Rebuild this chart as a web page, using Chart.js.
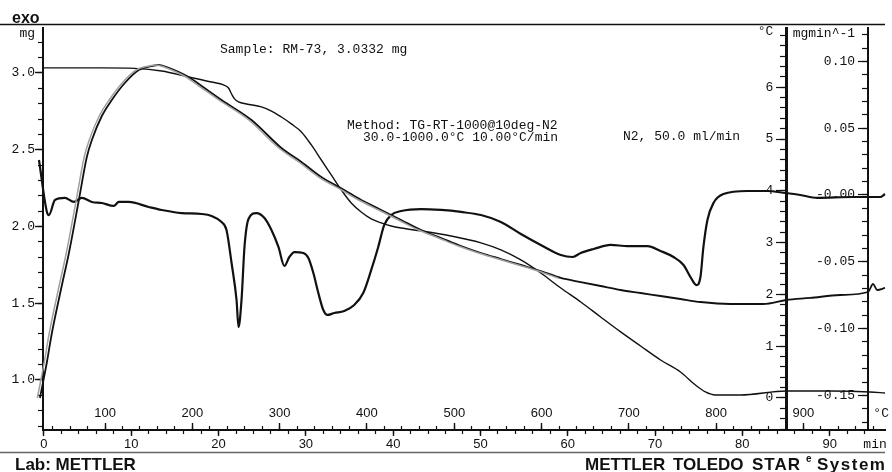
<!DOCTYPE html>
<html>
<head>
<meta charset="utf-8">
<script src="https://cdn.jsdelivr.net/npm/chart.js@4.4.1/dist/chart.umd.min.js"></script>
<style>
  html, body { margin: 0; padding: 0; background: #fff; }
  #tga { display: block; }
</style>
</head>
<body>
<canvas id="tga" width="892" height="472"></canvas>
<script>
// TG curve, sample mass (mg) against time (min)
var tgTime = [0, 6.63, 10.40, 13.49, 16.57, 19.20, 20.57, 21.14, 21.49, 21.83, 22.29, 23.20, 24.91, 26.06, 27.20, 28.34, 29.49, 30.63, 31.77, 32.91, 34.06, 35.20, 36.34, 37.49, 38.63, 39.77, 40.91, 43.20, 46.63, 50.06, 52.34, 54.63, 56.91, 59.20, 61.49, 63.77, 66.06, 68.34, 70.63, 72.91, 74.63, 75.77, 76.91, 79.77, 85.03, 90.06, 94.63, 96.34];
var tgMass = [3.033, 3.033, 3.030, 3.013, 2.974, 2.941, 2.922, 2.902, 2.863, 2.831, 2.811, 2.798, 2.779, 2.752, 2.713, 2.668, 2.616, 2.531, 2.433, 2.336, 2.238, 2.153, 2.094, 2.049, 2.023, 2.003, 1.990, 1.971, 1.938, 1.893, 1.847, 1.782, 1.697, 1.599, 1.508, 1.410, 1.313, 1.221, 1.130, 1.052, 0.967, 0.922, 0.902, 0.902, 0.928, 0.928, 0.922, 0.915];

// SDTA curve (°C)
var sdtaTime = [-0.46, 0.34, 0.91, 2.06, 2.86, 4.00, 4.91, 5.49, 6.63, 7.77, 9.26, 10.86, 12.34, 13.14, 14.06, 15.20, 16.57, 18.06, 20.34, 23.77, 27.20, 29.49, 31.77, 34.40, 36.34, 38.63, 40.91, 43.20, 45.49, 47.77, 50.06, 52.34, 54.63, 56.91, 59.20, 61.49, 63.77, 66.06, 68.34, 70.63, 72.91, 75.20, 78.63, 82.40, 85.03, 87.77, 91.20, 94.40, 94.97, 95.43, 96.34];
var sdtaVal = [0.000, 0.695, 1.255, 2.181, 2.799, 3.822, 4.653, 4.981, 5.444, 5.753, 6.081, 6.332, 6.409, 6.429, 6.390, 6.313, 6.197, 6.023, 5.753, 5.367, 4.826, 4.556, 4.266, 4.015, 3.822, 3.629, 3.436, 3.243, 3.089, 2.934, 2.799, 2.683, 2.568, 2.452, 2.317, 2.239, 2.162, 2.085, 2.027, 1.969, 1.911, 1.853, 1.815, 1.815, 1.892, 1.931, 1.988, 2.046, 2.201, 2.085, 2.124];

// grey companion trace of the SDTA curve
var greyTime = [-0.76, 0.04, 0.61, 1.76, 2.56, 3.70, 4.61, 5.19, 6.33, 7.47, 8.96, 10.56, 12.04, 12.84, 13.76, 14.90, 16.27, 17.76, 20.04, 23.47, 26.90, 29.19, 31.47, 34.10, 36.04, 38.33, 40.61, 42.90, 45.19, 47.47, 49.76, 52.04, 54.33, 56.61, 58.90];
var greyVal = [0.000, 0.695, 1.255, 2.181, 2.799, 3.822, 4.653, 4.981, 5.444, 5.753, 6.081, 6.332, 6.409, 6.429, 6.390, 6.313, 6.197, 6.023, 5.753, 5.367, 4.826, 4.556, 4.266, 4.015, 3.822, 3.629, 3.436, 3.243, 3.089, 2.934, 2.799, 2.683, 2.568, 2.452, 2.317];

// DTG curve (mg/min)
var dtgTime = [-0.57, 0.34, 0.57, 1.26, 2.40, 3.43, 4.34, 5.49, 6.63, 8.00, 8.57, 9.71, 12.00, 13.49, 15.77, 18.06, 19.20, 20.34, 20.91, 21.49, 22.06, 22.29, 22.63, 22.97, 23.43, 24.34, 25.26, 26.06, 26.86, 27.54, 28.11, 28.69, 29.71, 30.29, 30.86, 31.43, 32.00, 32.46, 33.26, 34.40, 35.54, 36.57, 37.49, 38.29, 38.97, 39.77, 40.91, 43.20, 45.49, 47.77, 50.06, 52.34, 54.63, 56.91, 59.20, 60.57, 61.49, 62.97, 64.91, 66.86, 69.14, 70.63, 72.11, 73.26, 74.06, 74.74, 75.20, 75.54, 76.00, 76.69, 77.83, 80.57, 82.86, 84.91, 86.63, 88.57, 92.69, 95.77, 96.34];
var dtgVal = [0.0262, -0.0127, -0.0150, -0.0037, -0.0022, -0.0052, -0.0022, -0.0052, -0.0060, -0.0082, -0.0052, -0.0052, -0.0090, -0.0112, -0.0135, -0.0142, -0.0157, -0.0202, -0.0262, -0.0509, -0.0786, -0.0988, -0.0786, -0.0389, -0.0180, -0.0135, -0.0172, -0.0262, -0.0389, -0.0531, -0.0464, -0.0427, -0.0434, -0.0472, -0.0584, -0.0734, -0.0861, -0.0898, -0.0883, -0.0868, -0.0823, -0.0734, -0.0561, -0.0389, -0.0225, -0.0150, -0.0120, -0.0105, -0.0112, -0.0127, -0.0150, -0.0202, -0.0292, -0.0374, -0.0449, -0.0464, -0.0434, -0.0404, -0.0374, -0.0382, -0.0382, -0.0419, -0.0464, -0.0524, -0.0614, -0.0674, -0.0614, -0.0389, -0.0187, -0.0060, 0.0007, 0.0030, 0.0030, 0.0015, 0.0000, -0.0022, -0.0015, -0.0015, 0.0007];

// tick labels
var timeTicks = [0, 10, 20, 30, 40, 50, 60, 70, 80, 90];
var tempTicks = [100, 200, 300, 400, 500, 600, 700, 800, 900];
var mgTicks = [1.0, 1.5, 2.0, 2.5, 3.0];
var sdtaTicks = [0, 1, 2, 3, 4, 5, 6];
var dtgTicks = [-0.15, -0.10, -0.05, 0, 0.05, 0.10];
var dtgLabels = ['-0.15', '-0.10', '-0.05', '-0.00', '0.05', '0.10'];

var ink = '#111';
var none = 'rgba(0,0,0,0)';
var mono = '"Liberation Mono", "Courier New", monospace';
var sans = '"Liberation Sans", Arial, sans-serif';

// time axis range; temperature = 30 + 10 * time
var tMin = -0.11, tMax = 96.34;
var mgMin = 0.674, mgMax = 3.293;
var sdMin = -0.618, sdMax = 7.143;
var dgMin = -0.1759, dgMax = 0.125;

function pts(xs, ys) {
    return xs.map(function (x, i) { return {x: x, y: ys[i]}; });
}
function steps(a, b, d) {
    var out = [];
    for (var v = a; v <= b + 1e-9; v += d) out.push(+v.toFixed(4));
    return out;
}
function setTicks(values) {
    return function (s) { s.ticks = values.map(function (v) { return {value: v}; }); };
}
function hideAbove(limit) {
    return function (c) { return c.tick && c.tick.value > limit ? none : ink; };
}

// tick-only scale sitting on another axis
function minorScale(axis, min, max, pos, values, len) {
    return {
        type: 'linear', axis: axis, position: pos, min: min, max: max, bounds: 'data',
        afterBuildTicks: setTicks(values),
        grid: {drawOnChartArea: false, tickLength: len, tickWidth: 1.2, tickColor: ink},
        border: {display: false},
        ticks: {display: false, autoSkip: false}
    };
}

var paperText = {
    id: 'paperText',
    afterDraw: function (chart) {
        var c = chart.ctx;
        c.save();
        c.strokeStyle = ink;
        c.lineWidth = 1.6;
        c.beginPath(); c.moveTo(0, 24.5); c.lineTo(885, 24.5); c.stroke();
        c.strokeStyle = '#666';
        c.lineWidth = 1.3;
        c.beginPath(); c.moveTo(0, 452.5); c.lineTo(885, 452.5); c.stroke();

        c.fillStyle = ink;
        c.textBaseline = 'alphabetic';
        c.font = 'bold 16px ' + sans;
        c.fillText('exo', 12, 23);

        c.font = '13px ' + mono;
        c.textBaseline = 'middle';
        c.fillText('Sample: RM-73, 3.0332 mg', 220, 50);
        c.fillText('Method: TG-RT-1000@10deg-N2', 347, 126);
        c.fillText('30.0-1000.0°C 10.00°C/min', 363, 138);
        c.fillText('N2, 50.0 ml/min', 623, 137);

        c.textBaseline = 'alphabetic';
        c.font = 'bold 17px ' + sans;
        c.fillText('Lab: METTLER', 15, 470);
        c.fillText('METTLER', 585, 470);
        c.fillText('TOLEDO', 673, 470);
        c.letterSpacing = '1px';
        c.fillText('STAR', 752, 470);
        c.font = 'bold 10px ' + sans;
        c.letterSpacing = '0px';
        c.fillText('e', 806, 462);
        c.font = 'bold 17px ' + sans;
        c.letterSpacing = '1.5px';
        c.fillText('System', 817, 470);
        c.restore();
    }
};

new Chart(document.getElementById('tga'), {
    type: 'line',
    data: {
        datasets: [
            {label: 'SDTA blank', data: pts(greyTime, greyVal), xAxisID: 'x', yAxisID: 'yT',
             borderColor: '#a0a0a0', borderWidth: 1.5, pointRadius: 0, cubicInterpolationMode: 'monotone', clip: 8},
            {label: 'SDTA', data: pts(sdtaTime, sdtaVal), xAxisID: 'x', yAxisID: 'yT',
             borderColor: ink, borderWidth: 1.8, pointRadius: 0, cubicInterpolationMode: 'monotone', clip: 8},
            {label: 'TG', data: pts(tgTime, tgMass), xAxisID: 'x', yAxisID: 'yMg',
             borderColor: ink, borderWidth: 1.4, pointRadius: 0, cubicInterpolationMode: 'monotone', clip: 8},
            {label: 'DTG', data: pts(dtgTime, dtgVal), xAxisID: 'x', yAxisID: 'yD',
             borderColor: ink, borderWidth: 2.2, pointRadius: 0, cubicInterpolationMode: 'monotone', clip: 8}
        ]
    },
    options: {
        responsive: false,
        animation: false,
        devicePixelRatio: 1,
        events: [],
        layout: {padding: {top: 28, right: 7, bottom: 0, left: 0}},
        plugins: {legend: {display: false}, tooltip: {enabled: false}},
        scales: {
            x: {
                type: 'linear', axis: 'x', position: 'bottom', min: tMin, max: tMax, bounds: 'data',
                afterBuildTicks: setTicks(timeTicks.concat([95.2])),
                afterFit: function (s) { s.height = 42; },
                grid: {drawOnChartArea: false, tickLength: 6, tickWidth: 1.4, tickColor: hideAbove(94)},
                border: {color: ink, width: 2},
                ticks: {
                    autoSkip: false, maxRotation: 0, padding: 1, color: ink,
                    font: function (c) { return {family: c.tick && c.tick.value > 94 ? mono : sans, size: 13}; },
                    callback: function (v) { return v > 94 ? 'min' : String(v); }
                }
            },
            xMinor: minorScale('x', tMin, tMax, {yMg: mgMin}, steps(0, 94, 2), 4),
            xT: {
                type: 'linear', axis: 'x', position: {yMg: mgMin},
                min: 30 + 10 * tMin, max: 30 + 10 * tMax, bounds: 'data',
                afterBuildTicks: setTicks(tempTicks.concat([989])),
                grid: {drawOnChartArea: false, tickLength: -7, tickWidth: 1.4, tickColor: hideAbove(950)},
                border: {display: false},
                ticks: {
                    autoSkip: false, maxRotation: 0, padding: -17, color: ink,
                    font: function (c) { return {family: c.tick && c.tick.value > 950 ? mono : sans, size: 13}; },
                    callback: function (v) { return v > 950 ? '°C' : String(v); }
                }
            },
            xTMinor: minorScale('x', 30 + 10 * tMin, 30 + 10 * tMax, {yMg: mgMin}, steps(40, 980, 20), -4),
            yMg: {
                type: 'linear', axis: 'y', position: 'left', min: mgMin, max: mgMax, bounds: 'data',
                afterBuildTicks: setTicks(mgTicks.concat([3.254])),
                afterFit: function (s) { s.width = 43; },
                grid: {drawOnChartArea: false, tickLength: 8, tickWidth: 1.4, tickColor: hideAbove(3.2)},
                border: {color: ink, width: 2},
                ticks: {
                    autoSkip: false, padding: 0, color: ink, font: {family: mono, size: 13},
                    callback: function (v) { return v > 3.2 ? 'mg' : v.toFixed(1); }
                }
            },
            yMgMinor: minorScale('y', mgMin, mgMax, {x: tMin}, steps(0.7, 3.2, 0.1), 5),
            yT: {
                type: 'linear', axis: 'y', position: {x: 85.03}, min: sdMin, max: sdMax, bounds: 'data',
                afterBuildTicks: setTicks(steps(-0.6, 7.0, 0.2)),
                grid: {drawOnChartArea: false, tickLength: 5, tickWidth: 1.2, tickColor: ink},
                border: {color: ink, width: 3},
                ticks: {display: false, autoSkip: false}
            },
            yTMajor: minorScale('y', sdMin, sdMax, {x: 85.03}, sdtaTicks, 10),
            yTLab: {
                type: 'linear', axis: 'y', position: {x: 83.54}, min: sdMin, max: sdMax, bounds: 'data',
                afterBuildTicks: setTicks(sdtaTicks.concat([7.07])),
                grid: {display: false, drawTicks: false},
                border: {display: false},
                ticks: {
                    autoSkip: false, padding: 0, color: ink, font: {family: mono, size: 13},
                    callback: function (v) { return v > 6.5 ? '°C' : String(v); }
                }
            },
            yD: {
                type: 'linear', axis: 'y', position: {x: 94.40}, min: dgMin, max: dgMax, bounds: 'data',
                afterBuildTicks: setTicks(steps(-0.17, 0.12, 0.01)),
                grid: {drawOnChartArea: false, tickLength: 5, tickWidth: 1.2, tickColor: ink},
                border: {color: ink, width: 2},
                ticks: {display: false, autoSkip: false}
            },
            yDMajor: minorScale('y', dgMin, dgMax, {x: 94.40}, dtgTicks, 10),
            yDLab: {
                type: 'linear', axis: 'y', position: {x: 92.91}, min: dgMin, max: dgMax, bounds: 'data',
                afterBuildTicks: setTicks(dtgTicks.concat([0.121])),
                grid: {display: false, drawTicks: false},
                border: {display: false},
                ticks: {
                    autoSkip: false, padding: 0, color: ink, font: {family: mono, size: 13},
                    callback: function (v, i) { return i < dtgLabels.length ? dtgLabels[i] : 'mgmin^-1'; }
                }
            }
        }
    },
    plugins: [paperText]
});
</script>
</body>
</html>
